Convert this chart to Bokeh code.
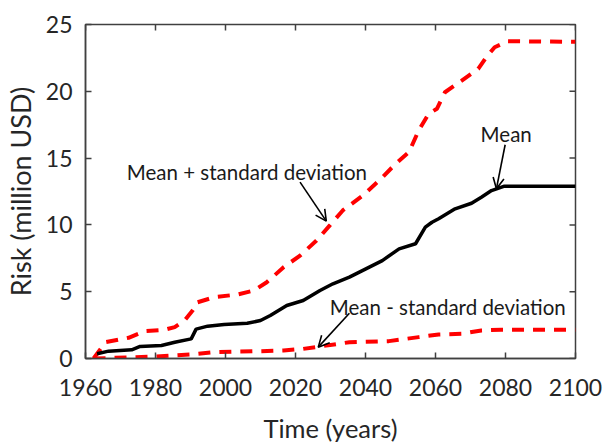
import math
from bokeh.plotting import figure
from bokeh.models import Range1d, FixedTicker, Arrow, OpenHead, ColumnDataSource
from bokeh.core.properties import value
from bokeh.embed import file_html
from bokeh.resources import INLINE

# ---- data ----
mean_years = [1963.3, 1966.6, 1973.2, 1975.6, 1981.7, 1985.5, 1990.2, 1991.6, 1994.9, 1999.6,
              2006.2, 2010.0, 2012.8, 2017.5, 2022.2, 2027.0, 2030.7, 2035.4, 2040.1, 2044.8,
              2049.6, 2054.3, 2057.1, 2059.0, 2060.9, 2065.6, 2070.3, 2073.1, 2076.0, 2079.7, 2100.0]
mean_vals = [0.35, 0.55, 0.65, 0.9, 0.97, 1.22, 1.47, 2.2, 2.42, 2.55,
             2.64, 2.84, 3.22, 3.97, 4.34, 5.09, 5.59, 6.09, 6.71, 7.33,
             8.21, 8.59, 9.83, 10.2, 10.46, 11.2, 11.62, 12.07, 12.57, 12.9, 12.9]

upper_years = [1962.3, 1965.7, 1972.3, 1977.0, 1982.6, 1985.5, 1988.3, 1990.6, 1992.0, 1996.8,
               2003.4, 2008.1, 2011.8, 2016.6, 2021.3, 2026.0, 2029.8, 2033.5, 2039.2, 2043.9,
               2048.6, 2052.4, 2055.2, 2058.0, 2060.4, 2062.7, 2067.5, 2072.2, 2074.5, 2076.9,
               2080.7, 2100.0]
upper_vals = [0.0, 1.22, 1.55, 2.05, 2.15, 2.35, 2.84, 3.59, 4.21, 4.59,
              4.79, 5.09, 5.71, 6.83, 7.7, 8.83, 9.96, 11.08, 12.2, 13.32,
              14.57, 15.44, 17.07, 18.3, 18.69, 19.93, 20.8, 21.68, 22.55, 23.3,
              23.75, 23.7]

lower_years = [1962.3, 1968.5, 1979.8, 1990.2, 1996.8, 2010.0, 2016.6, 2022.2, 2027.0, 2035.4,
               2046.7, 2055.2, 2060.9, 2067.5, 2073.1, 2078.8, 2100.0]
lower_vals = [0.0, 0.05, 0.15, 0.3, 0.47, 0.55, 0.6, 0.72, 0.9, 1.22,
              1.3, 1.6, 1.8, 1.85, 2.1, 2.15, 2.15]

x_ticks = [1960, 1980, 2000, 2020, 2040, 2060, 2080, 2100]
y_ticks = [0, 5, 10, 15, 20, 25]

# annotations (data coordinates)
ann_texts = ["Mean + standard deviation", "Mean", "Mean - standard deviation"]
ann_text_x = [1971.8, 2080.2, 2029.8]
ann_text_y = [13.94, 16.82, 3.84]
ann_align = ["left", "center", "left"]
arrow_x_start = [2021.3, 2079.9, 2035.4]
arrow_y_start = [13.2, 16.0, 3.39]
arrow_x_end = [2028.8, 2077.4, 2026.5]
arrow_y_end = [10.28, 12.7, 0.85]

FONT = "Lato"
AXIS_COL = "#404040"
TXT_COL = "#262626"

p = figure(width=609, height=445, output_backend="svg", toolbar_location=None,
           x_range=Range1d(1960, 2100), y_range=Range1d(0, 25),
           min_border_left=80, min_border_right=34, min_border_top=24, min_border_bottom=87)

p.xgrid.visible = False
p.ygrid.visible = False
p.outline_line_color = AXIS_COL
p.outline_line_width = 1.5
p.background_fill_color = "white"
p.border_fill_color = "white"

p.line(upper_years, upper_vals, line_color="red", line_width=4, line_dash="12 9")
p.line(lower_years, lower_vals, line_color="red", line_width=4, line_dash="12 9")
p.line(mean_years, mean_vals, line_color="black", line_width=3.5)

src = ColumnDataSource(dict(x=ann_text_x, y=ann_text_y, t=ann_texts, a=ann_align))
p.text(x="x", y="y", text="t", text_align="a", text_baseline="alphabetic",
       text_font=value(FONT), text_font_size="20.5px", text_color="#1a1a1a", source=src)

for xs, ys, xe, ye in zip(arrow_x_start, arrow_y_start, arrow_x_end, arrow_y_end):
    p.add_layout(Arrow(x_start=xs, y_start=ys, x_end=xe, y_end=ye, line_width=1.6,
                       line_color="black",
                       end=OpenHead(size=11, line_width=1.6, line_color="black")))

# mirrored inward ticks on the top and right edges (half of each dash is clipped by the frame)
p.scatter(x=x_ticks, y=[y_ticks[-1]] * len(x_ticks), marker="dash", size=12,
          angle=math.pi / 2, line_color=AXIS_COL, line_width=1.5)
p.scatter(x=[x_ticks[-1]] * len(y_ticks), y=y_ticks, marker="dash", size=12,
          line_color=AXIS_COL, line_width=1.5)

for ax, ticks in ((p.xaxis[0], x_ticks), (p.yaxis[0], y_ticks)):
    ax.ticker = FixedTicker(ticks=ticks)
    ax.minor_tick_line_color = None
    ax.major_tick_in = 6
    ax.major_tick_out = 0
    ax.axis_line_color = AXIS_COL
    ax.axis_line_width = 1.5
    ax.major_tick_line_color = AXIS_COL
    ax.major_tick_line_width = 1.5
    ax.major_label_text_font = FONT
    ax.major_label_text_font_size = "23px"
    ax.major_label_text_color = TXT_COL
    ax.axis_label_text_font = FONT
    ax.axis_label_text_font_style = "normal"
    ax.axis_label_text_color = TXT_COL

p.xaxis.axis_label = "Time (years)"
p.yaxis.axis_label = "Risk (million USD)"
p.xaxis.axis_label_text_font_size = "25.5px"
p.yaxis.axis_label_text_font_size = "27px"
p.xaxis.major_label_standoff = 20
p.yaxis.major_label_standoff = 13
p.xaxis.axis_label_standoff = 14
p.yaxis.axis_label_standoff = 6

open("out.html", "w").write(file_html(p, INLINE))
